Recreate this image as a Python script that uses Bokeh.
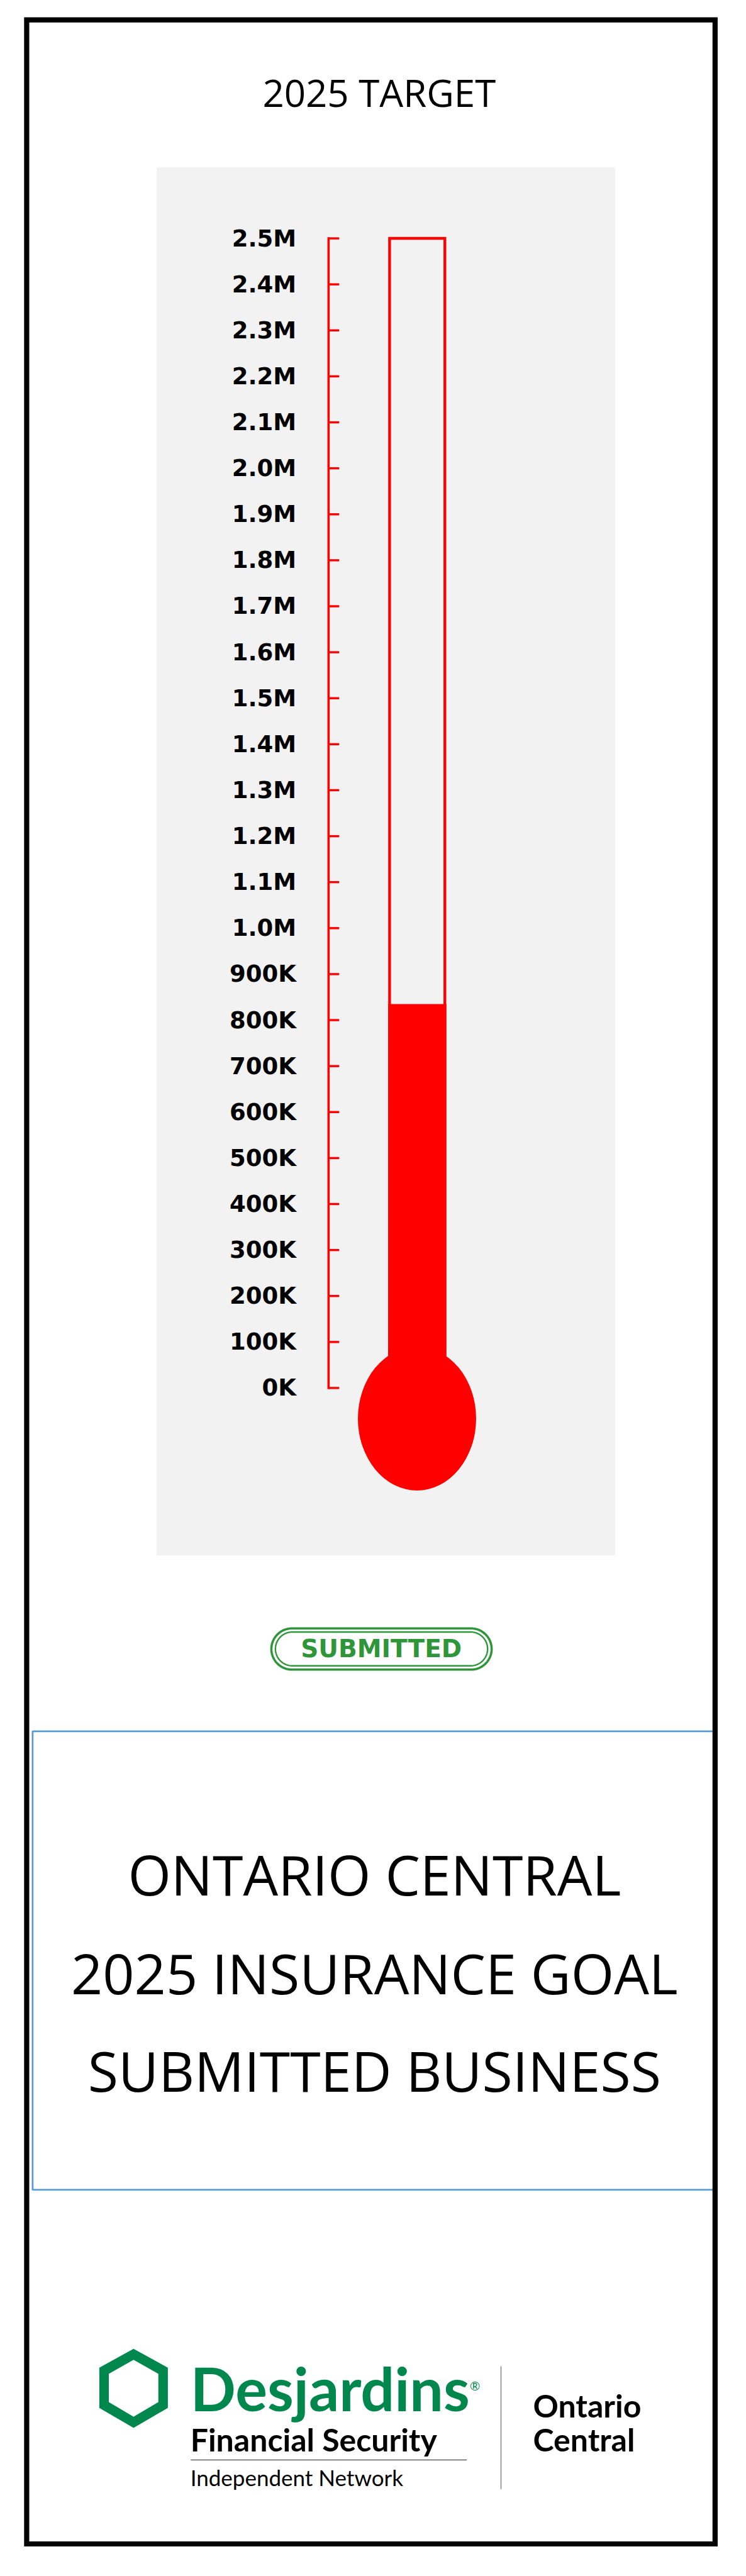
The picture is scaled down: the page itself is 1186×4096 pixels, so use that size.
import numpy as np
from bokeh.plotting import figure
from bokeh.models import Range1d
from bokeh.core.properties import value
from bokeh.embed import file_html
from bokeh.resources import INLINE

# ------------------------------------------------------------------ data
title_text = "2025 TARGET"
target_value = 2500000
submitted_value = 835000
tick_values = [0, 100000, 200000, 300000, 400000, 500000, 600000, 700000,
               800000, 900000, 1000000, 1100000, 1200000, 1300000, 1400000,
               1500000, 1600000, 1700000, 1800000, 1900000, 2000000, 2100000,
               2200000, 2300000, 2400000, 2500000]
tick_labels = ["0K", "100K", "200K", "300K", "400K", "500K", "600K", "700K",
               "800K", "900K", "1.0M", "1.1M", "1.2M", "1.3M", "1.4M",
               "1.5M", "1.6M", "1.7M", "1.8M", "1.9M", "2.0M", "2.1M",
               "2.2M", "2.3M", "2.4M", "2.5M"]
stamp_text = "SUBMITTED"
headline_lines = ["ONTARIO CENTRAL", "2025 INSURANCE GOAL", "SUBMITTED BUSINESS"]
brand_name = "Desjardins"
brand_line1 = "Financial Security"
brand_line2 = "Independent Network"
region_lines = ["Ontario", "Central"]

# ------------------------------------------------------------------ layout helpers
K = 0.676
W, H = 1170, 4080


def X(rx):
    return rx * K


def Y(ry):
    return H - ry * K


RED = "#ff0000"
GREEN_STAMP = "#2e9638"
GREEN_BRAND = "#00874e"

p = figure(width=W, height=H, x_range=Range1d(0, W), y_range=Range1d(0, H),
           x_axis_type=None, y_axis_type=None, toolbar_location=None,
           output_backend="svg", min_border=0, outline_line_color=None,
           background_fill_color="white", border_fill_color="white")

# value scale of the thermometer (0 at the 0K tick, target at the top tick)
zero_fy, top_fy = Y(3264), Y(560)
per_px = target_value / (top_fy - zero_fy)
p.extra_y_ranges = {"val": Range1d(-zero_fy * per_px, target_value + (H - top_fy) * per_px)}


def label(x, y, txt, font, size, color="black", bold=False, align="center"):
    p.text(x=[x], y=[y], text=[txt], text_font=value(font),
           text_font_style="bold" if bold else "normal",
           text_font_size=size, text_align=align, text_baseline="middle",
           text_color=color)


# title
label(X(891), Y(217), title_text, "Open Sans", "60px")

# grey panel
p.quad(left=X(368), right=X(1446), top=Y(393), bottom=Y(3658),
       fill_color="#f2f2f2", line_color=None)

# scale line + ticks + labels
n = len(tick_values)
p.segment(x0=[X(772)], x1=[X(772)], y0=[tick_values[0]], y1=[tick_values[-1]],
          y_range_name="val", line_color=RED, line_width=3.6, line_cap="square")
p.segment(x0=[X(772)] * n, x1=[X(797)] * n, y0=tick_values, y1=tick_values,
          y_range_name="val", line_color=RED, line_width=3.4)
p.text(x=[X(696)] * n, y=tick_values, text=tick_labels, y_range_name="val",
       text_font=value("DejaVu Sans"), text_font_style="bold",
       text_font_size="37px", text_align="right", text_baseline="middle",
       text_color="black")

# tube outline, mercury column, bulb
p.quad(left=X(915.5), right=X(1045.5), bottom=tick_values[0], top=target_value,
       y_range_name="val", fill_color=None, line_color=RED, line_width=4.4,
       line_join="miter")
p.vbar(x=X(980.5), width=137 * K, bottom=tick_values[0], top=submitted_value,
       y_range_name="val", fill_color=RED, line_color=None)
p.ellipse(x=X(980), y=Y(3336), width=278 * K, height=338 * K,
          fill_color=RED, line_color=None)


# SUBMITTED stamp
def pill(x0, x1, y0, y1):
    r = (y1 - y0) / 2.0
    yc = (y0 + y1) / 2.0
    a1 = np.linspace(-np.pi / 2, np.pi / 2, 60)
    a2 = np.linspace(np.pi / 2, 3 * np.pi / 2, 60)
    xs = np.concatenate([x1 - r + r * np.cos(a1), x0 + r + r * np.cos(a2)])
    ys = np.concatenate([yc + r * np.sin(a1), yc + r * np.sin(a2)])
    return np.append(xs, xs[0]), np.append(ys, ys[0])


ox, oy = pill(X(637.5), X(1155.5), Y(3926.5), Y(3829.5))
ix, iy = pill(X(647), X(1146), Y(3917.5), Y(3838))
p.line(ox, oy, line_color=GREEN_STAMP, line_width=3.6)
p.line(ix, iy, line_color=GREEN_STAMP, line_width=2.4)
label(X(896), Y(3877), stamp_text, "DejaVu Sans", "39px", GREEN_STAMP, bold=True)

# headline box
p.quad(left=X(76), right=X(1681), top=Y(4071.5), bottom=Y(5150),
       fill_color=None, line_color="#5b9bd5", line_width=2.8)
for line_txt, mid in zip(headline_lines, [4408, 4640, 4869]):
    label(X(880), Y(mid), line_txt, "Open Sans", "88px")

# logo
outer = [(313.4, 5524), (232.8, 5568.6), (232.8, 5663), (313.4, 5710), (394, 5663), (394, 5568.6)]
inner = [(313.4, 5550), (255.2, 5583), (255.2, 5649.5), (313.4, 5683.8), (371.6, 5649.5), (371.6, 5583)]
p.multi_polygons(xs=[[[[X(a) for a, b in outer], [X(a) for a, b in inner]]]],
                 ys=[[[[Y(b) for a, b in outer], [Y(b) for a, b in inner]]]],
                 fill_color=GREEN_BRAND, line_color=None)
label(X(447), Y(5616), brand_name, "Lato", "95px", GREEN_BRAND, bold=True, align="left")
label(X(1104), Y(5610), "®", "Lato", "20px", GREEN_BRAND, align="left")
label(X(447), Y(5738), brand_line1, "Lato", "50px", bold=True, align="left")
p.segment(x0=[X(448)], x1=[X(1097)], y0=[Y(5785.5)], y1=[Y(5785.5)],
          line_color="#222222", line_width=1.2)
label(X(447), Y(5826), brand_line2, "Lato", "35px", align="left")
p.segment(x0=[X(1177.5)], x1=[X(1177.5)], y0=[Y(5565)], y1=[Y(5854)],
          line_color="#555555", line_width=1)
for line_txt, mid in zip(region_lines, [5658, 5738]):
    label(X(1253), Y(mid), line_txt, "Lato", "50px", bold=True, align="left")

# page border
p.quad(left=X(62), right=X(1681), top=Y(46), bottom=Y(5983),
       fill_color=None, line_color="black", line_width=8.2, line_join="miter")

open("out.html", "w").write(file_html(p, INLINE, "chart"))
